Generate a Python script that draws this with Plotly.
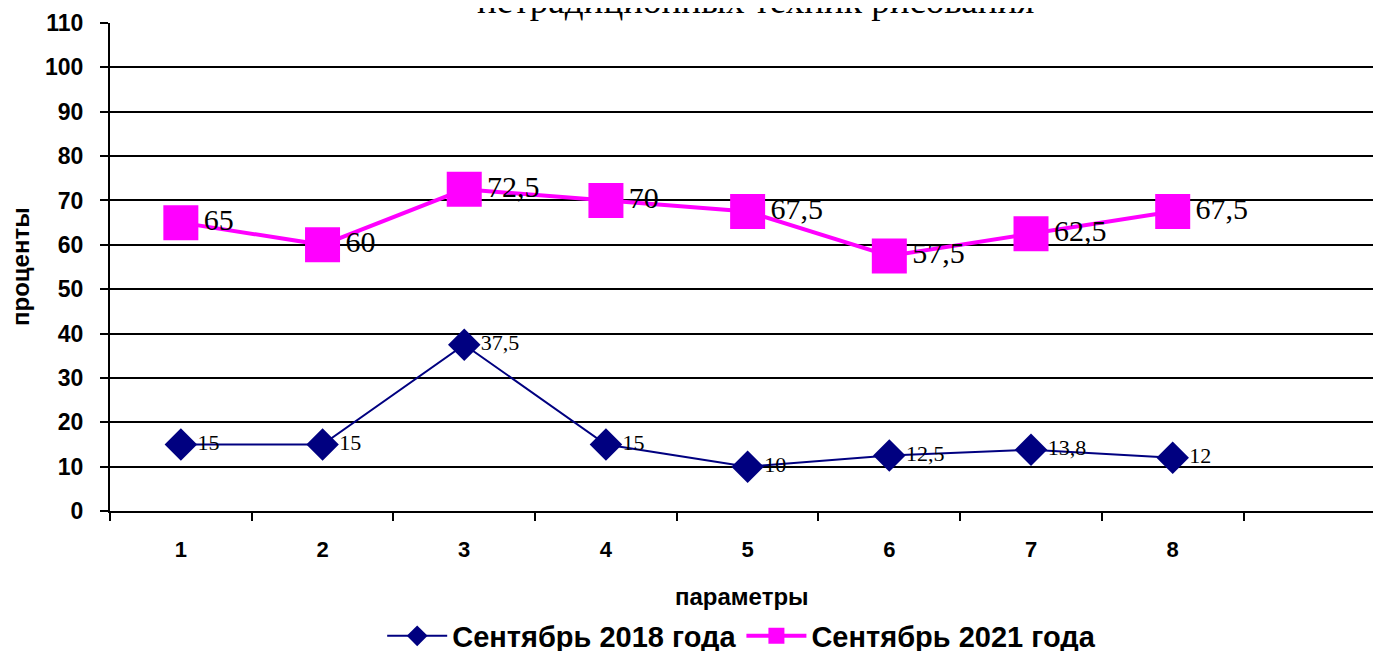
import plotly.graph_objects as go

categories = ["1", "2", "3", "4", "5", "6", "7", "8"]
extra_slot = [" "]
sep2018 = [15, 15, 37.5, 15, 10, 12.5, 13.8, 12]
sep2018_labels = ["15", "15", "37,5", "15", "10", "12,5", "13,8", "12"]
sep2021 = [65, 60, 72.5, 70, 67.5, 57.5, 62.5, 67.5]
sep2021_labels = ["65", "60", "72,5", "70", "67,5", "57,5", "62,5", "67,5"]
title_text = "нетрадиционных техник рисования"
x_title = "параметры"
y_title = "проценты"

SANS = "Liberation Sans, Arial, sans-serif"
SERIF = "Liberation Serif, Times New Roman, serif"

fig = go.Figure()
fig.add_trace(go.Scatter(
    x=categories, y=sep2018, name="Сентябрь 2018 года",
    mode="lines+markers+text", text=sep2018_labels, textposition="middle right",
    textfont=dict(family=SERIF, size=22, color="black"),
    line=dict(color="#000080", width=2),
    marker=dict(symbol="diamond", size=25, color="#000080"),
    cliponaxis=False,
))
fig.add_trace(go.Scatter(
    x=categories, y=sep2021, name="Сентябрь 2021 года",
    mode="lines+markers+text", text=sep2021_labels, textposition="middle right",
    textfont=dict(family=SERIF, size=30, color="black"),
    line=dict(color="#FF00FF", width=4),
    marker=dict(symbol="square", size=35, color="#FF00FF"),
    cliponaxis=False,
))

fig.add_annotation(
    text=title_text, xref="paper", yref="paper", x=0.508, y=1,
    xanchor="center", yanchor="bottom", yshift=0, showarrow=False,
    font=dict(family=SERIF, size=37, color="black"),
)
fig.add_annotation(
    text=x_title, xref="paper", yref="paper", x=0.497, y=-0.176,
    xanchor="center", yanchor="middle", showarrow=False,
    font=dict(family=SANS, size=24, color="black", weight="bold"),
)
fig.add_annotation(
    text=y_title, xref="paper", yref="paper", x=-0.0708, y=0.5,
    xanchor="center", yanchor="middle", textangle=-90, showarrow=False,
    font=dict(family=SANS, size=24, color="black", weight="bold"),
)

fig.update_layout(
    width=1373, height=665,
    margin=dict(l=102, r=0, t=15, b=162),
    paper_bgcolor="white", plot_bgcolor="white",
    font=dict(family=SANS, color="black"),
    showlegend=True,
    legend=dict(orientation="h", x=0.497, xanchor="center", y=-0.256, yanchor="middle",
                font=dict(family=SANS, size=29, color="black", weight="bold"),
                itemwidth=60, tracegroupgap=0),
    xaxis=dict(
        type="category", categoryorder="array", categoryarray=categories + extra_slot,
        range=[-0.5, 8.47], tickson="boundaries", ticks="outside", ticklen=8,
        tickwidth=2, tickcolor="black", showgrid=False, showline=True,
        linecolor="black", linewidth=2, zeroline=False, automargin=False,
        ticklabelstandoff=18,
        tickfont=dict(family=SANS, size=22, color="black", weight="bold"),
    ),
    yaxis=dict(
        range=[0, 110], dtick=10, tick0=0, ticks="outside", ticklen=8, tickwidth=2,
        tickcolor="black", showgrid=True, gridcolor="black", gridwidth=2,
        showline=True, linecolor="black", linewidth=2, zeroline=False, automargin=False,
        ticklabelstandoff=12,
        tickfont=dict(family=SANS, size=23, color="black", weight="bold"),
    ),
)

fig.write_html("out.html")
